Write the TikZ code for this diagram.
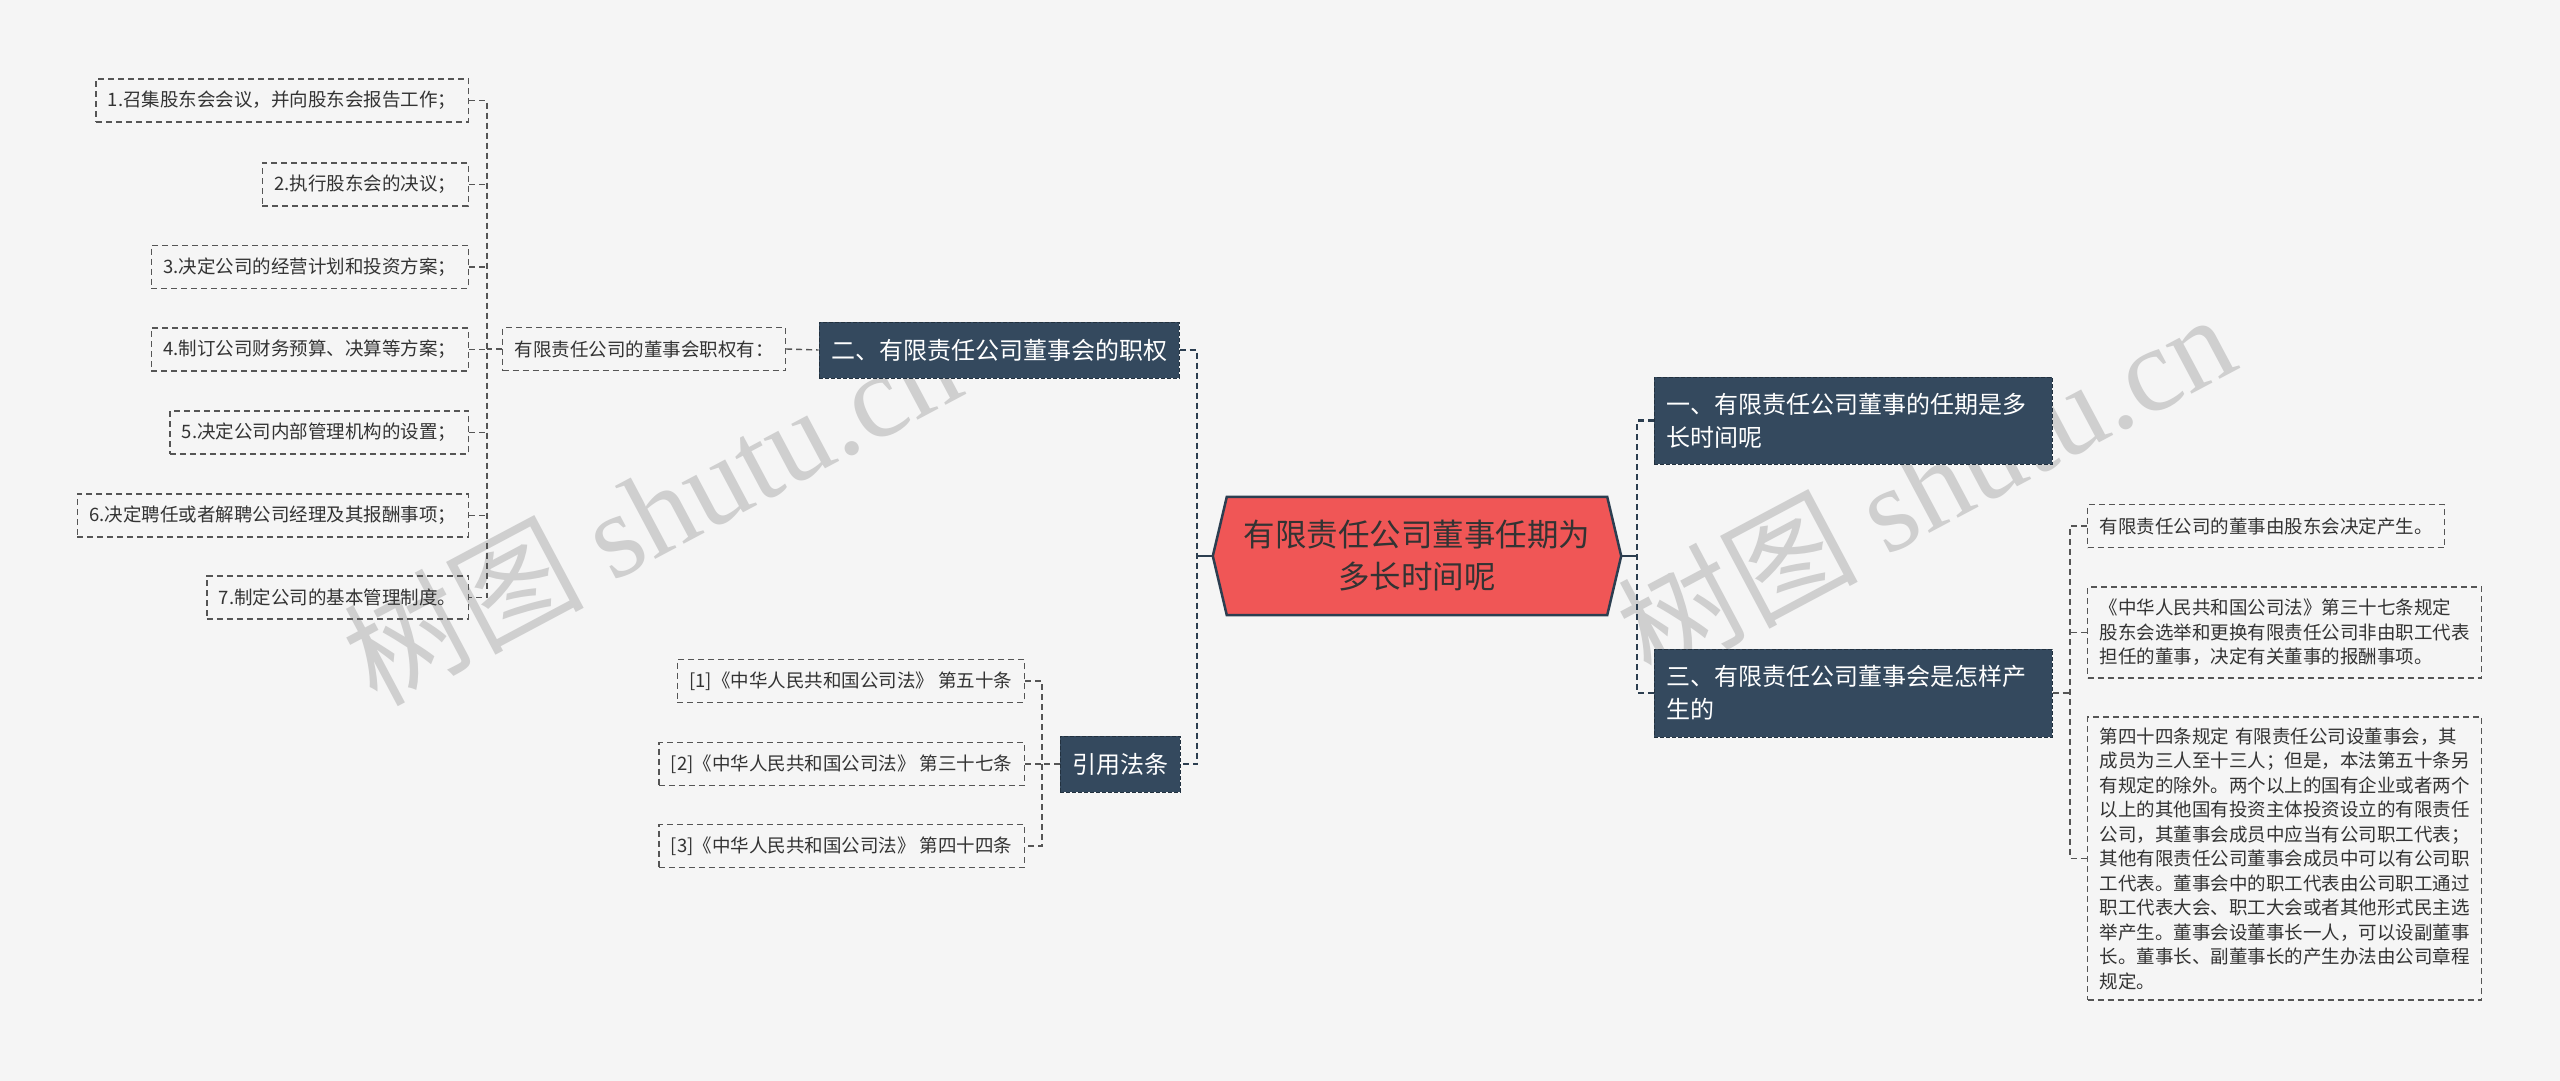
\documentclass[tikz,border=0pt]{standalone}
\usepackage{fontspec}
\setmainfont{Noto Sans CJK SC}
\newfontfamily\wmlatin{Liberation Serif}
\usetikzlibrary{backgrounds,calc}
\definecolor{bgc}{HTML}{F5F5F5}
\definecolor{navy}{HTML}{34495E}
\definecolor{navyline}{HTML}{22313F}
\definecolor{rootred}{HTML}{F05656}
\definecolor{rootline}{HTML}{2C3E50}
\definecolor{leafline}{HTML}{555555}
\definecolor{txt}{HTML}{333333}
\definecolor{wm}{HTML}{CFCFCF}
\tikzset{
  leaf/.style={draw=leafline, line width=1.4pt, dash pattern=on 6pt off 4pt, text=txt,
    font=\fontsize{18.5}{24.5}\selectfont, inner xsep=12pt, inner ysep=0pt, minimum height=43pt},
  branch/.style={fill=navy, draw=navyline, line width=1pt, dash pattern=on 4pt off 2pt, text=white,
    font=\fontsize{24}{33}\selectfont, inner xsep=12pt, inner ysep=0pt, minimum height=56pt},
  thinlink/.style={draw=leafline, line width=1.4pt, dash pattern=on 6pt off 4pt},
  thicklink/.style={draw=rootline, line width=2.6pt, dash pattern=on 6pt off 4pt},
  solidlink/.style={draw=rootline, line width=2.6pt},
  wmark/.style={text=wm, font=\fontsize{120}{120}\selectfont, rotate=28, inner sep=0pt},
}
\begin{document}
\begin{tikzpicture}[x=1pt, y=-1pt]
\useasboundingbox (0,0) rectangle (2560,1081);
\begin{scope}[on background layer]
  \fill[bgc] (0,0) rectangle (2560,1081);
\end{scope}

% watermarks
\node[wmark] (wm1) at (651,510) {树图 {\wmlatin shutu.cn}};
\node[wmark] (wm2) at (1925,484) {树图 {\wmlatin shutu.cn}};

% root
\node[text=txt, font=\fontsize{31.5}{42}\selectfont, align=center, minimum width=380pt,
      minimum height=118pt, inner sep=0pt] (root) at (1417,556) {有限责任公司董事任期为\\多长时间呢};
\begin{scope}[on background layer]
  \draw[fill=rootred, draw=rootline, line width=2.5pt, line join=miter]
    (root.north west) -- (root.north east) -- ([xshift=14pt]root.east) -- (root.south east)
    -- (root.south west) -- ([xshift=-14pt]root.west) -- cycle;
\end{scope}
\coordinate (rootL) at ([xshift=-14pt]root.west);
\coordinate (rootR) at ([xshift=14pt]root.east);

% branches
\node[branch, minimum width=360pt] (b2) at (999,350) {二、有限责任公司董事会的职权};
\node[branch, minimum width=120pt] (ref) at (1120,764) {引用法条};
\node[branch, text width=374pt, align=left, minimum height=87pt] (b1) at (1853,420.5) {一、有限责任公司董事的任期是多\\长时间呢};
\node[branch, text width=374pt, align=left, minimum height=88pt] (b3) at (1853,693) {三、有限责任公司董事会是怎样产\\生的};

% left leaves
\node[leaf, anchor=east] (l1) at (469,100.5) {1.召集股东会会议，并向股东会报告工作；};
\node[leaf, anchor=east] (l2) at (469,184.5) {2.执行股东会的决议；};
\node[leaf, anchor=east] (l3) at (469,267) {3.决定公司的经营计划和投资方案；};
\node[leaf, anchor=east] (l4) at (469,349.5) {4.制订公司财务预算、决算等方案；};
\node[leaf, anchor=east] (l5) at (469,432.5) {5.决定公司内部管理机构的设置；};
\node[leaf, anchor=east] (l6) at (469,515.5) {6.决定聘任或者解聘公司经理及其报酬事项；};
\node[leaf, anchor=east] (l7) at (469,597.5) {7.制定公司的基本管理制度。};
\node[leaf] (mid) at (644,349) {有限责任公司的董事会职权有：};

% references
\node[leaf, anchor=east] (r1) at (1025,681) {[1]《中华人民共和国公司法》 第五十条};
\node[leaf, anchor=east] (r2) at (1025,764) {[2]《中华人民共和国公司法》 第三十七条};
\node[leaf, anchor=east] (r3) at (1025,846) {[3]《中华人民共和国公司法》 第四十四条};

% right leaves
\node[leaf, anchor=west] (ra) at (2087,526) {有限责任公司的董事由股东会决定产生。};
\node[leaf, anchor=west, text width=370pt, align=left, minimum height=91pt] (rb) at (2087,632.5)
  {《中华人民共和国公司法》第三十七条规定\\股东会选举和更换有限责任公司非由职工代表\\担任的董事，决定有关董事的报酬事项。};
\node[leaf, anchor=west, text width=370pt, align=left, minimum height=283pt] (rc) at (2087,858.5)
  {第四十四条规定 有限责任公司设董事会，其\\成员为三人至十三人；但是，本法第五十条另\\有规定的除外。两个以上的国有企业或者两个\\以上的其他国有投资主体投资设立的有限责任\\公司，其董事会成员中应当有公司职工代表；\\其他有限责任公司董事会成员中可以有公司职\\工代表。董事会中的职工代表由公司职工通过\\职工代表大会、职工大会或者其他形式民主选\\举产生。董事会设董事长一人，可以设副董事\\长。董事长、副董事长的产生办法由公司章程\\规定。};

% bracket coordinates
\coordinate (spL) at (1197,0);
\coordinate (spR) at (1637,0);
\coordinate (brL) at (487,0);
\coordinate (brM) at (1042,0);
\coordinate (brR) at (2070,0);

% main spines
\draw[solidlink] (rootL) -- (rootL -| spL);
\draw[thicklink] (b2.east) -- (b2.east -| spL) -- (ref.east -| spL) -- (ref.east);
\draw[solidlink] (rootR) -- (rootR -| spR);
\draw[thicklink] (b1.west) -- (b1.west -| spR) -- (b3.west -| spR) -- (b3.west);

% left leaves bracket
\draw[thinlink] (l1.east) -- (l1.east -| brL) -- (l7.east -| brL) -- (l7.east);
\foreach \n in {l2,l3,l4,l5,l6} { \draw[thinlink] (\n.east) -- (\n.east -| brL); }
\draw[thinlink] (mid.west) -- (mid.west -| brL);
\draw[thinlink] (mid.east) -- (b2.west);

% references bracket
\draw[thinlink] (r1.east) -- (r1.east -| brM) -- (r3.east -| brM) -- (r3.east);
\draw[thinlink] (r2.east) -- (r2.east -| brM);
\draw[thinlink] (ref.west) -- (ref.west -| brM);

% right leaves bracket
\draw[thinlink] (ra.west) -- (ra.west -| brR) -- (rc.west -| brR) -- (rc.west);
\draw[thinlink] (rb.west) -- (rb.west -| brR);
\draw[thinlink] (b3.east) -- (b3.east -| brR);
\end{tikzpicture}
\end{document}
